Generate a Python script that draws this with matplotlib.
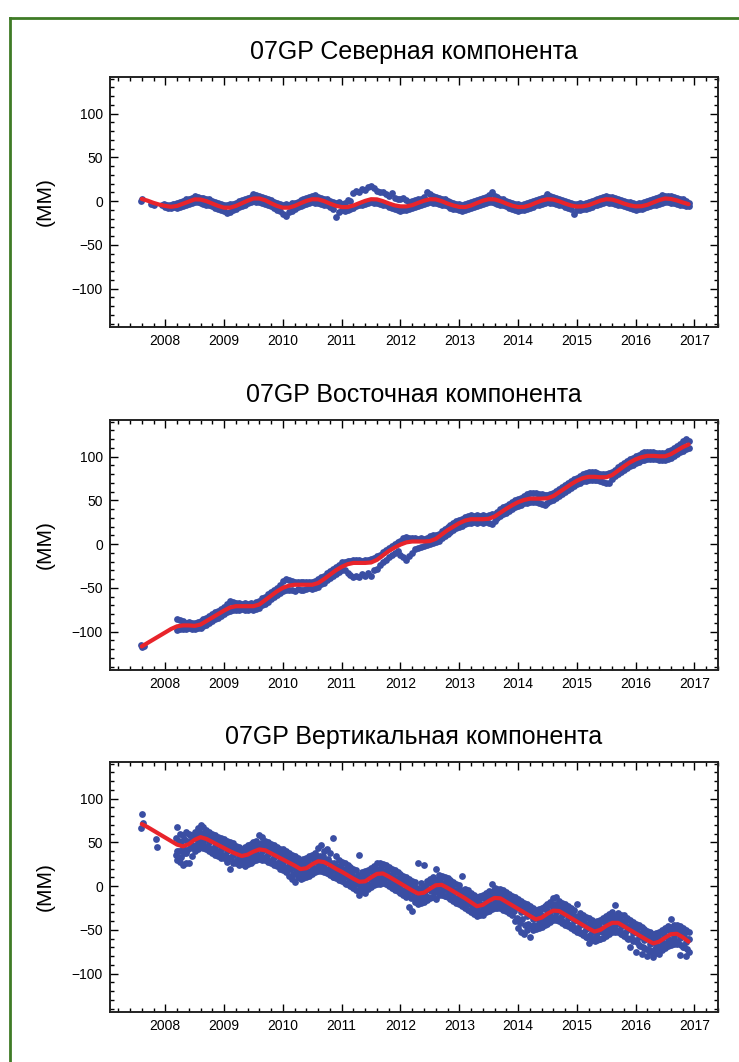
import numpy as np
import matplotlib.pyplot as plt
from matplotlib.ticker import MultipleLocator
from matplotlib.lines import Line2D

plt.rcParams['font.family'] = ['Liberation Sans', 'DejaVu Sans']

# time axes (decimal years)
fit_t = np.round(np.arange(2007.6, 2016.91, 0.1), 1)
obs_t = np.round(np.arange(2008.20, 2016.91, 0.05), 2)
obs_t2 = np.round(obs_t - 0.025, 3)

titles = ['07GP Северная компонента', '07GP Восточная компонента', '07GP Вертикальная компонента']
years = [2008, 2009, 2010, 2011, 2012, 2013, 2014, 2015, 2016, 2017]

# ---- north
north_fit = [2.5, 0.5, -2.0, -4.0,
             -5.5, -6.5, -5.5, -3.0, -0.5, 2.0, 1.8, 0.0, -2.8, -5.5,
             -7.5, -7.5, -5.5, -2.5, 0.5, 3.0, 3.0, 1.0, -2.5, -5.5,
             -7.5, -7.5, -5.5, -2.5, 0.3, 2.2, 2.0, 0.0, -2.8, -5.3,
             -6.8, -6.8, -5.0, -2.3, 0.3, 2.2, 2.0, 0.0, -2.6, -4.8,
             -6.0, -6.0, -4.6, -2.0, 0.5, 2.2, 2.0, 0.0, -2.8, -5.0,
             -6.6, -6.8, -5.0, -2.2, 0.5, 2.2, 2.0, 0.0, -2.8, -5.2,
             -6.8, -6.6, -4.8, -2.0, 0.6, 2.2, 1.8, -0.2, -2.8, -5.0,
             -6.2, -6.0, -4.6, -2.0, 0.6, 2.2, 1.8, -0.2, -2.8, -4.8,
             -6.0, -5.8, -4.2, -1.5, 1.2, 3.0, 2.5, 0.8, -1.5, -3.5]
north_early_t = [2007.58, 2007.60, 2007.75, 2007.80, 2007.95, 2007.97, 2008.00, 2008.03,
                 2008.05, 2008.08, 2008.10, 2008.13, 2008.15, 2008.17]
north_early_v = [0, 2, -3, -4, -5, -3, -7, -4, -8, -4, -8, -3, -7, -3]
north_a = [-2, -1, 0, 2, 3, 4, 6, 5, 4, 4, 3, 2, 0, -1, -2, -3,
           -4, -5, -3, -3, -2, 0, 1, 2, 4, 5, 8, 7, 6, 5, 4, 3, 1, -1, -2, -3,
           -4, -3, -4, -2, -2, -1, 1, 2, 4, 5, 6, 7, 5, 4, 3, 2, 0, -1, -2, -1,
           -3, -2, 1, 0, 9, 12, 10, 14, 13, 16, 17, 15, 12, 10, 11, 8, 6, 9, 4, 3,
           2, 4, 1, -1, 0, 1, 2, 3, 5, 10, 8, 6, 5, 4, 3, 2, 0, -1, -2, -3,
           -3, -4, -3, -2, -1, 0, 1, 3, 4, 5, 7, 11, 6, 5, 3, 2, 0, -1, -2, -3,
           -3, -4, -3, -2, -1, 0, 1, 3, 4, 5, 8, 6, 5, 4, 3, 1, 0, -1, -2, -3,
           -3, -2, -3, -2, -1, 0, 1, 2, 4, 5, 6, 5, 5, 4, 2, 1, 0, -1, -1, -2,
           -3, -2, -2, -1, 0, 1, 2, 4, 5, 7, 6, 6, 6, 5, 4, 3, 2, 0, -2]
north_b = [-8, -7, -6, -5, -3, -2, -1, -1, -2, -3, -4, -5, -6, -8, -9, -10,
           -11, -14, -12, -10, -9, -7, -6, -4, -2, -1, 0, -1, -1, -2, -3, -4, -6, -8, -10, -11,
           -15, -17, -13, -11, -9, -7, -6, -5, -3, -2, -1, -2, -2, -3, -4, -5, -7, -9, -18, -13,
           -10, -11, -10, -9, -8, -6, -5, -4, -3, -2, -1, -2, -2, -3, -4, -5, -7, -8, -9, -10,
           -11, -10, -10, -9, -8, -7, -6, -4, -3, -2, -1, -2, -2, -3, -4, -5, -6, -8, -9, -9,
           -10, -11, -10, -9, -8, -7, -6, -4, -3, -2, -1, -1, -2, -3, -4, -5, -6, -8, -9, -10,
           -11, -10, -10, -9, -8, -7, -5, -4, -3, -2, -1, -2, -2, -3, -4, -5, -7, -8, -9, -15,
           -10, -10, -9, -9, -8, -7, -5, -4, -3, -2, -1, -2, -2, -3, -4, -5, -6, -7, -8, -9,
           -10, -9, -9, -8, -7, -6, -5, -4, -3, -2, -1, -1, -2, -2, -3, -4, -5, -6, -6]

# ---- east
east_fit = [-117, -113, -109, -105,
            -101, -97, -94, -93, -93, -93.5, -92, -88, -84, -80,
            -76, -72.5, -71, -71, -71, -71, -69, -64, -59, -54,
            -50, -47.5, -46.5, -46.5, -46.5, -46.5, -44.5, -40, -35, -30,
            -26, -23, -21.5, -21.5, -21.5, -21, -18, -13, -8, -4,
            -0.5, 2, 3, 3, 3, 3.5, 6, 11, 16, 20,
            24, 27, 28.5, 28.5, 28.5, 29, 31.5, 36, 40.5, 44.5,
            48, 50.5, 52, 52, 52, 52.5, 55, 59.5, 64, 68.5,
            72.5, 75.5, 77, 77, 76.5, 76.5, 79, 84, 89, 93.5,
            97, 99.5, 101, 101, 100.5, 100.5, 103, 107, 111, 114]
east_early_t = [2007.58, 2007.60, 2007.64]
east_early_v = [-115, -118, -116]
east_a = [-86, -87, -88, -90, -89, -90, -90, -89, -88, -86, -84, -82, -80, -78, -76, -74,
          -72, -69, -65, -66, -67, -67, -68, -67, -68, -67, -68, -66, -65, -62, -60, -57, -55, -52, -50, -47,
          -42, -40, -41, -42, -43, -43, -43, -43, -43, -43, -43, -42, -40, -38, -36, -33, -31, -29, -26, -24,
          -21, -20, -19, -19, -18, -18, -18, -19, -18, -18, -17, -16, -14, -12, -9, -7, -4, -2, 0, 2,
          4, 7, 8, 7, 7, 7, 6, 7, 6, 7, 9, 10, 10, 12, 15, 17, 20, 22, 24, 26,
          28, 29, 31, 32, 33, 32, 33, 32, 33, 32, 33, 34, 35, 37, 40, 42, 44, 46, 48, 50,
          52, 53, 55, 57, 58, 58, 59, 57, 57, 56, 56, 57, 59, 61, 63, 65, 68, 70, 72, 74,
          76, 78, 80, 81, 82, 82, 82, 81, 80, 80, 80, 81, 83, 85, 88, 90, 93, 95, 97, 99,
          101, 102, 104, 105, 105, 105, 105, 104, 104, 104, 104, 106, 108, 110, 112, 115, 118, 120, 118]
east_b = [-98, -97, -97, -97, -96, -97, -97, -96, -96, -94, -92, -90, -88, -86, -84, -82,
          -80, -78, -76, -75, -75, -75, -74, -75, -75, -74, -75, -74, -73, -70, -68, -66, -63, -61, -58, -56,
          -54, -53, -52, -53, -54, -51, -52, -53, -51, -50, -51, -50, -49, -46, -44, -41, -39, -36, -34, -32,
          -30, -30, -33, -35, -38, -36, -38, -34, -37, -33, -36, -30, -28, -24, -20, -18, -15, -12, -10, -8,
          -12, -15, -18, -14, -10, -6, -4, -3, -2, -1, 0, 1, 2, 4, 7, 9, 12, 14, 16, 18,
          20, 21, 23, 24, 24, 25, 24, 25, 24, 25, 24, 23, 27, 30, 32, 34, 36, 38, 40, 42,
          44, 45, 47, 47, 48, 48, 48, 47, 46, 45, 47, 49, 51, 53, 55, 57, 60, 62, 64, 66,
          69, 70, 72, 72, 73, 73, 73, 73, 72, 71, 70, 70, 75, 78, 80, 83, 85, 87, 89, 91,
          93, 94, 96, 96, 97, 97, 97, 97, 96, 96, 96, 97, 99, 101, 103, 105, 107, 109, 110]

# ---- vertical
vert_fit = [71, 67.5, 63.5, 59.5,
            55.5, 51.5, 47.5, 45.5, 48, 53, 56, 54, 50.5, 47,
            43.5, 40, 37, 34.5, 36, 39.5, 42, 41, 37.5, 34,
            30.5, 27, 23.5, 19.5, 20.5, 25, 28.5, 27.5, 24, 20,
            16.5, 12.5, 8.5, 5, 5.5, 10, 14, 14.5, 11, 7,
            3, -1, -5, -8.5, -7.5, -3, 1, 1.5, -2, -6,
            -10, -14, -18.5, -23, -21.5, -17, -13.5, -14, -18, -22,
            -26, -30, -34, -38, -36, -31.5, -28, -28.5, -32.5, -36.5,
            -40.5, -44.5, -48.5, -52, -50, -45.5, -42, -42, -46, -50,
            -54, -58, -62, -65.5, -63.5, -59, -55, -54.5, -58.5, -63.5]
vert_early_t = [2007.58, 2007.60, 2007.62, 2007.85, 2007.86]
vert_early_v = [67, 82, 72, 54, 45]
vert_a = [68, 60, 58, 62, 60, 56, 62, 66, 70, 68, 64, 62, 60, 58, 56, 55,
          54, 52, 50, 49, 46, 45, 43, 45, 47, 48, 50, 52, 58, 56, 52, 50, 48, 47, 45, 43,
          42, 40, 38, 36, 34, 32, 30, 31, 32, 34, 36, 38, 44, 47, 40, 42, 38, 55, 34, 30,
          28, 26, 24, 22, 20, 18, 36, 16, 17, 19, 21, 23, 26, 26, 25, 24, 22, 20, 18, 16,
          14, 12, 10, 8, 6, 5, 27, 4, 24, 6, 8, 10, 20, 13, 12, 11, 9, 7, 5, 3,
          1, 12, -3, -5, -8, -10, -12, -11, -10, -8, -6, 3, -2, -3, -3, -5, -7, -9, -11, -13,
          -15, -17, -19, -21, -23, -25, -27, -26, -25, -23, -20, -18, -14, -12, -17, -19, -21, -23, -25, -27,
          -20, -31, -33, -35, -37, -39, -41, -40, -39, -37, -34, -32, -30, -22, -31, -33, -33, -37, -39, -41,
          -43, -45, -47, -49, -51, -53, -55, -54, -53, -50, -48, -46, -38, -44, -44, -46, -48, -50, -53]
vert_c = [55, 52, 50, 54, 52, 58, 59, 58, 63, 60, 62, 57, 56, 55, 51, 52,
          50, 48, 44, 46, 42, 43, 40, 39, 43, 42, 47, 46, 48, 49, 45, 46, 41, 42, 40, 37,
          37, 34, 33, 30, 31, 26, 27, 24, 28, 27, 32, 31, 35, 34, 35, 30, 31, 27, 27, 23,
          23, 20, 20, 15, 16, 11, 13, 9, 13, 12, 17, 16, 21, 19, 22, 17, 18, 13, 14, 9,
          9, 8, 4, 5, 1, 0, -2, -4, 0, 0, 4, 4, 8, 7, 9, 4, 5, 1, 1, -4,
          -4, -5, -10, -8, -14, -12, -17, -15, -14, -13, -10, -11, -6, -8, -7, -11, -10, -15, -15, -19,
          -20, -20, -26, -24, -29, -28, -34, -30, -31, -25, -26, -22, -22, -20, -23, -23, -27, -26, -32, -31,
          -34, -35, -40, -38, -43, -42, -48, -44, -46, -40, -41, -36, -37, -34, -37, -37, -41, -40, -46, -45,
          -48, -48, -54, -52, -57, -56, -61, -58, -59, -54, -55, -49, -50, -47, -50, -49, -54, -55, -60]
vert_m = [40, 50, 44, 38, 50, 47, 55, 52, 58, 52, 56, 50, 53, 46, 48, 43,
          46, 40, 42, 36, 39, 33, 37, 32, 38, 36, 42, 38, 45, 40, 43, 37, 40, 33, 36, 30,
          28, 31, 24, 27, 21, 23, 17, 22, 18, 25, 23, 29, 26, 30, 25, 28, 21, 24, 17, 20,
          14, 17, 10, 13, 6, 9, 3, 8, 3, 10, 8, 14, 12, 17, 12, 15, 9, 11, 5, 7,
          1, 4, -3, 0, -7, -4, -10, -6, -9, -3, -5, 1, -1, 3, 0, 2, -4, -2, -8, -6,
          -12, -9, -16, -14, -21, -18, -25, -20, -24, -17, -19, -13, -16, -11, -16, -14, -20, -18, -24, -22,
          -24, -30, -27, -34, -31, -38, -35, -40, -34, -36, -29, -32, -26, -30, -27, -33, -30, -37, -34, -40,
          -38, -45, -42, -49, -46, -53, -49, -54, -48, -50, -43, -46, -40, -44, -40, -46, -43, -50, -47, -54,
          -52, -58, -55, -62, -59, -66, -62, -67, -61, -64, -57, -60, -53, -57, -52, -59, -56, -64, -61]
vert_d = [36, 40, 33, 38, 41, 44, 46, 47, 49, 49, 46, 46, 42, 43, 40, 38,
          36, 35, 31, 33, 28, 30, 26, 29, 27, 32, 31, 35, 34, 36, 32, 34, 29, 31, 25, 27,
          23, 22, 18, 20, 14, 16, 11, 14, 12, 17, 16, 21, 20, 22, 19, 20, 15, 17, 11, 13,
          9, 9, 3, 6, 0, 2, -4, 0, -3, 2, 1, 7, 5, 9, 6, 8, 3, 4, -2, 0,
          -4, -4, -10, -8, -14, -12, -17, -14, -16, -10, -12, -6, -7, -5, -7, -5, -11, -9, -15, -14,
          -17, -17, -23, -21, -27, -25, -31, -28, -30, -24, -25, -20, -21, -19, -22, -21, -26, -25, -31, -29,
          -36, -42, -38, -45, -43, -46, -44, -46, -43, -41, -40, -37, -36, -35, -37, -38, -41, -42, -45, -46,
          -48, -49, -54, -52, -58, -56, -61, -58, -60, -53, -54, -49, -50, -48, -51, -50, -55, -54, -60, -59,
          -62, -64, -68, -70, -72, -73, -74, -72, -72, -69, -66, -65, -63, -62, -63, -65, -67, -70, -72]
vert_b = [30, 28, 24, 27, 26, 35, 40, 42, 45, 44, 42, 40, 38, 36, 34, 32,
          32, 28, 20, 26, 26, 24, 25, 23, 25, 27, 29, 30, 31, 30, 30, 28, 26, 24, 23, 20,
          18, 16, 12, 8, 5, 10, 8, 9, 10, 12, 14, 16, 17, 17, 16, 15, 13, 11, 9, 7,
          6, 4, 2, 0, -2, -4, -10, -6, -8, -3, -1, 1, 3, 3, 4, 2, 0, -2, -4, -6,
          -8, -10, -12, -24, -28, -18, -20, -19, -18, -16, -14, -12, -15, -10, -10, -11, -13, -15, -17, -19,
          -21, -23, -25, -27, -30, -32, -34, -33, -33, -30, -28, -26, -25, -25, -25, -27, -29, -31, -33, -40,
          -48, -52, -55, -50, -58, -50, -49, -48, -47, -45, -43, -41, -39, -39, -40, -42, -44, -46, -48, -50,
          -52, -54, -56, -58, -65, -62, -63, -62, -61, -59, -57, -55, -53, -53, -53, -55, -57, -59, -70, -63,
          -75, -67, -78, -71, -80, -75, -81, -76, -78, -73, -71, -69, -67, -66, -66, -79, -70, -80, -75]

panels = [
    (north_fit, north_early_t, north_early_v, [(obs_t, north_a), (obs_t, north_b)]),
    (east_fit, east_early_t, east_early_v, [(obs_t, east_a), (obs_t, east_b)]),
    (vert_fit, vert_early_t, vert_early_v, [(obs_t, vert_a), (obs_t2, vert_c), (obs_t, vert_m),
                                            (obs_t2, vert_d), (obs_t, vert_b)]),
]
bottoms = [1 - 327 / 1062, 1 - 670 / 1062, 1 - 1012 / 1062]
blue = '#3a4ea3'

fig = plt.figure(figsize=(7.39, 10.62), dpi=100)

for i, (fit, et, ev, obs) in enumerate(panels):
    ax = fig.add_axes([110 / 739, bottoms[i], 608 / 739, 250 / 1062])
    ax.scatter(et, ev, s=24, color=blue, linewidths=0, zorder=2)
    for tt, v in obs:
        ax.scatter(tt, v, s=24, color=blue, linewidths=0, zorder=2)
    ax.plot(fit_t, fit, color='#e8242b', lw=3, zorder=3, solid_capstyle='round')

    ax.set_xlim(2007.06, 2017.4)
    ax.set_ylim(-144, 142)
    ax.set_xticks(years)
    ax.set_xticklabels([str(y) for y in years])
    ax.set_yticks([-100, -50, 0, 50, 100])
    ax.xaxis.set_minor_locator(MultipleLocator(0.2))
    ax.yaxis.set_minor_locator(MultipleLocator(10))
    ax.tick_params(which='both', direction='in', top=True, right=True, labelsize=10, width=1)
    ax.tick_params(which='major', length=6, pad=5)
    ax.tick_params(which='minor', length=3)
    for s in ax.spines.values():
        s.set_linewidth(1.4)
        s.set_color('#222222')
    ax.set_title(titles[i], fontsize=18, pad=13)
    ax.set_ylabel('(ММ)', fontsize=15, labelpad=12)

# green frame of the page
fig.add_artist(Line2D([10 / 739, 10 / 739], [0, 1 - 18 / 1062], color='#3f7b26', lw=2))
fig.add_artist(Line2D([10 / 739, 1], [1 - 18 / 1062, 1 - 18 / 1062], color='#3f7b26', lw=2))

fig.savefig('out.png', dpi=100)
